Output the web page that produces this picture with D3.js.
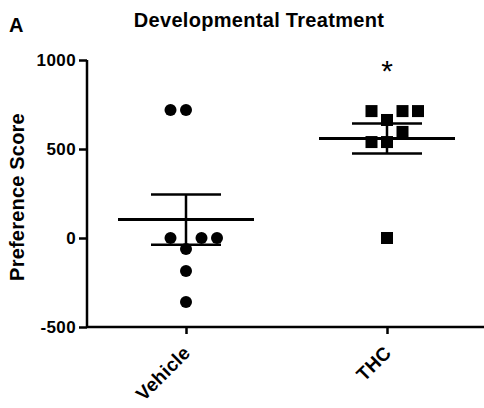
<!DOCTYPE html>
<html>
<head>
<meta charset="utf-8">
<script src="https://cdn.jsdelivr.net/npm/d3@7"></script>
<style>
	body { margin: 0; background: #fff; }
	svg text { font-family: Arial, "Liberation Sans", sans-serif; font-weight: bold; fill: #000; }
</style>
</head>
<body>
<div id="chart"></div>
<script>
	'use strict';

	var groups = ['Vehicle', 'THC'];
	var vehicleScores = [719, 719, 0, 0, 0, -62, -185, -360];
	var thcScores = [713, 713, 713, 663, 596, 539, 539, 0];
	var yTicks = [-500, 0, 500, 1000];
	var significance = ['', '*'];

	var width = 484;
	var height = 408;
	var margin = {top: 60, right: 0, bottom: 81, left: 87};

	var svg = d3.select('#chart')
		.append('svg')
		.attr('width', width)
		.attr('height', height);

	var x = d3.scalePoint()
		.domain(groups)
		.range([186, 387]);

	var y = d3.scaleLinear()
		.domain([-500, 1000])
		.range([height - margin.bottom, margin.top]);

	var series = [vehicleScores, thcScores].map(function (vals, i) {
		var mean = d3.mean(vals);
		var sem = d3.deviation(vals) / Math.sqrt(vals.length);
		return {name: groups[i], vals: vals, mean: mean, sem: sem, mark: i == 0 ? 'circle' : 'square'};
	});

	// spread overlapping points sideways, like a column scatter
	var step = 15.5;
	var size = 12;
	var order = [0, -1, 1, 2, -2, 3, -3];
	function spread(vals) {
		var placed = [];
		vals.slice().sort(d3.ascending).forEach(function (v) {
			var py = y(v);
			for (var k = 0; k < order.length; k ++) {
				var dx = order[k] * step;
				var hit = placed.some(function (p) {
					return Math.abs(p.dx - dx) < size && Math.abs(p.py - py) < size;
				});
				if (!hit) {
					placed.push({v: v, dx: dx, py: py});
					break;
				}
			}
		});
		return placed;
	}

	var plot = svg.append('g');

	// axes
	var yAxis = d3.axisLeft(y)
		.tickValues(yTicks)
		.tickSize(8)
		.tickPadding(3)
		.tickFormat(function (d) { return String(d); });
	var gy = plot.append('g')
		.attr('transform', 'translate(' + margin.left + ',0)')
		.call(yAxis);
	gy.select('.domain').attr('stroke-width', 2.5).attr('d', 'M0,' + y(1000) + 'V' + y(-500));
	gy.selectAll('.tick line').attr('stroke-width', 2.5);
	gy.selectAll('.tick text')
		.style('font-size', '17px')
		.attr('letter-spacing', '0.4');

	var xAxis = d3.axisBottom(x)
		.tickSize(7)
		.tickFormat('');
	var gx = plot.append('g')
		.attr('transform', 'translate(0,' + y(-500) + ')')
		.call(xAxis);
	gx.select('.domain').attr('stroke-width', 2.5).attr('d', 'M' + margin.left + ',0H' + width);
	gx.selectAll('.tick line').attr('stroke-width', 2.5);

	gx.selectAll('.tick')
		.append('text')
		.text(function (d) { return d; })
		.attr('text-anchor', 'end')
		.attr('transform', 'translate(5,27) rotate(-45)')
		.style('font-size', '19px')
		.attr('letter-spacing', '0.3');

	// points
	series.forEach(function (s) {
		var pts = spread(s.vals);
		var g = plot.append('g')
			.attr('transform', 'translate(' + x(s.name) + ',0)');

		// mean line
		g.append('line')
			.attr('x1', -68).attr('x2', 68)
			.attr('y1', y(s.mean)).attr('y2', y(s.mean))
			.attr('stroke', '#000').attr('stroke-width', 3);
		// sem bar
		g.append('line')
			.attr('x1', 0).attr('x2', 0)
			.attr('y1', y(s.mean + s.sem)).attr('y2', y(s.mean - s.sem))
			.attr('stroke', '#000').attr('stroke-width', 2.5);
		[s.mean + s.sem, s.mean - s.sem].forEach(function (v) {
			g.append('line')
				.attr('x1', -35).attr('x2', 35)
				.attr('y1', y(v)).attr('y2', y(v))
				.attr('stroke', '#000').attr('stroke-width', 2.5);
		});

		if (s.mark == 'circle') {
			g.selectAll('circle')
				.data(pts)
				.enter()
				.append('circle')
				.attr('cx', function (d) { return d.dx; })
				.attr('cy', function (d) { return d.py; })
				.attr('r', size / 2)
				.attr('fill', '#000');
		} else {
			g.selectAll('rect')
				.data(pts)
				.enter()
				.append('rect')
				.attr('x', function (d) { return d.dx - size / 2; })
				.attr('y', function (d) { return d.py - size / 2; })
				.attr('width', size)
				.attr('height', size)
				.attr('fill', '#000');
		}
	});

	// significance marks
	plot.selectAll('text.sig')
		.data(groups)
		.enter()
		.append('text')
		.attr('class', 'sig')
		.text(function (d, i) { return significance[i]; })
		.attr('text-anchor', 'middle')
		.attr('x', function (d) { return x(d); })
		.attr('y', 81)
		.style('font-size', '30px')
		.style('font-weight', 'normal');

	svg.append('text')
		.text('Developmental Treatment')
		.attr('text-anchor', 'middle')
		.attr('x', 259)
		.attr('y', 27)
		.style('font-size', '20px')
		.attr('letter-spacing', '0.3');

	svg.append('text')
		.text('A')
		.attr('x', 9)
		.attr('y', 32)
		.style('font-size', '20px');

	svg.append('text')
		.text('Preference Score')
		.attr('text-anchor', 'middle')
		.attr('transform', 'translate(24,' + 197 + ') rotate(-90)')
		.style('font-size', '20px')
		.attr('letter-spacing', '0.2');
</script>
</body>
</html>
